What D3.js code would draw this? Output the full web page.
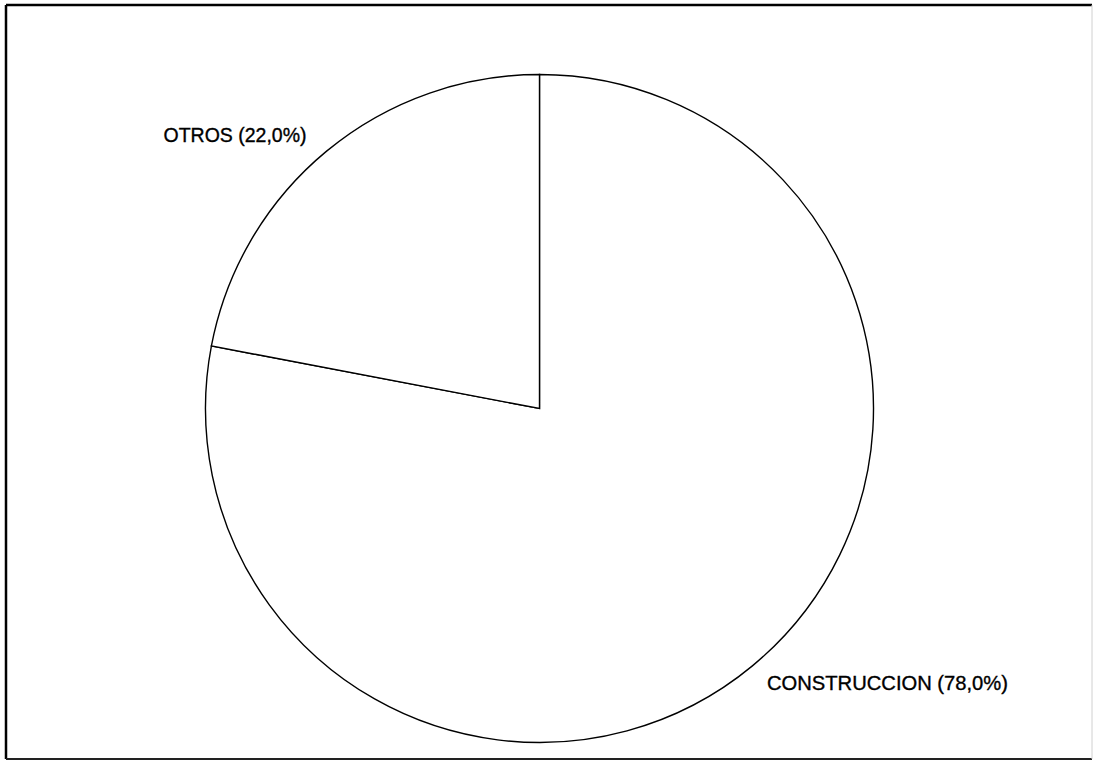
<!DOCTYPE html>
<html>
<head>
<meta charset="utf-8">
<script src="https://cdn.jsdelivr.net/npm/d3@7"></script>
<style>
  html, body { margin: 0; padding: 0; background: #fff; }
  svg { display: block; }
</style>
</head>
<body>
<svg id="chart" width="1099" height="761"></svg>
<script>
// Share of each sector
const categories = ["CONSTRUCCION", "OTROS"];
const shares = [78.0, 22.0];
const labels = ["CONSTRUCCION (78,0%)", "OTROS (22,0%)"];

const svg = d3.select("#chart");

// Frame around the chart
svg.append("line").attr("x1", 6).attr("y1", 5).attr("x2", 1092).attr("y2", 5)
  .attr("stroke", "#000").attr("stroke-width", 2.5);
svg.append("line").attr("x1", 6).attr("y1", 5).attr("x2", 6).attr("y2", 759)
  .attr("stroke", "#000").attr("stroke-width", 2.5);
svg.append("line").attr("x1", 6).attr("y1", 759).attr("x2", 1092).attr("y2", 759)
  .attr("stroke", "#222").attr("stroke-width", 2);
svg.append("line").attr("x1", 1092).attr("y1", 5).attr("x2", 1092).attr("y2", 759)
  .attr("stroke", "#d0d0d0").attr("stroke-width", 1);

const cx = 539.5, cy = 408.5, r = 334;

const pie = d3.pie().sort(null).value(d => d.value);
const arcs = pie(categories.map((c, i) => ({ name: c, value: shares[i], label: labels[i] })));
const arc = d3.arc().innerRadius(0).outerRadius(r);

const g = svg.append("g").attr("transform", `translate(${cx},${cy})`);
g.selectAll("path.slice")
  .data(arcs)
  .join("path")
  .attr("class", "slice")
  .attr("d", arc)
  .attr("fill", "#fff")
  .attr("stroke", "#000")
  .attr("stroke-width", 1.4)
  .attr("stroke-linejoin", "miter");

// Slice labels placed outside the pie
const labelPos = {
  "CONSTRUCCION": { x: 767, y: 689.5, w: 241 },
  "OTROS": { x: 163.5, y: 142, w: 143 }
};
svg.selectAll("text.lbl")
  .data(arcs)
  .join("text")
  .attr("class", "lbl")
  .attr("x", d => labelPos[d.data.name].x)
  .attr("y", d => labelPos[d.data.name].y)
  .attr("textLength", d => labelPos[d.data.name].w)
  .attr("lengthAdjust", "spacingAndGlyphs")
  .attr("font-family", "Liberation Sans, Arial, Helvetica, sans-serif")
  .attr("font-size", 20)
  .attr("fill", "#000")
  .attr("stroke", "#000")
  .attr("stroke-width", 0.35)
  .text(d => d.data.label);
</script>
</body>
</html>
